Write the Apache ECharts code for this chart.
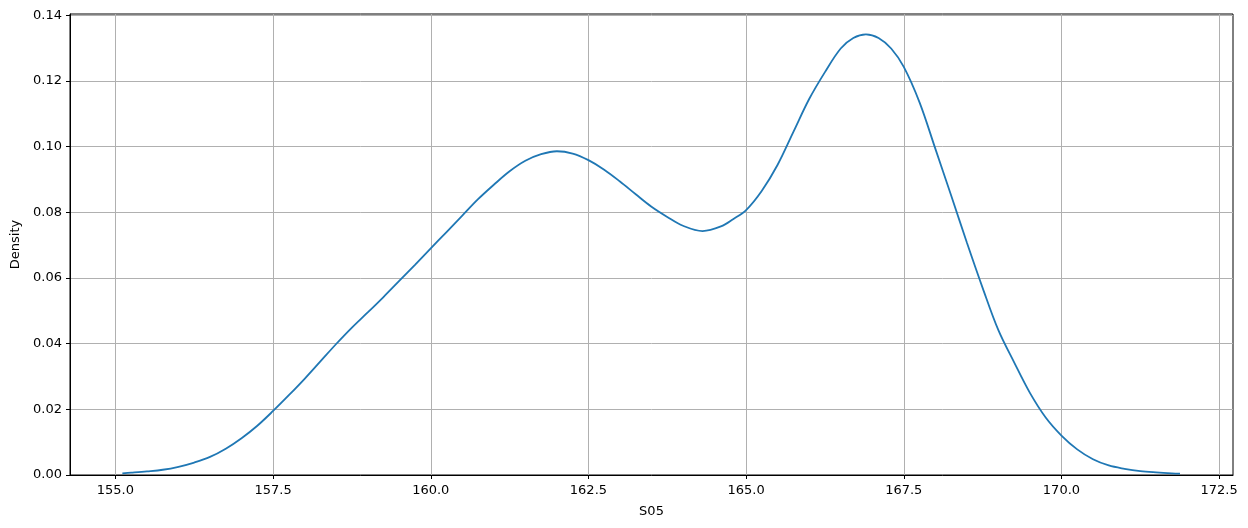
<!DOCTYPE html>
<html>
<head>
<meta charset="utf-8">
<script src="https://cdn.jsdelivr.net/npm/echarts@6/dist/echarts.min.js"></script>
<style>html,body{margin:0;padding:0;background:#fff}#c{width:1248px;height:528px}</style>
</head>
<body>
<div id="c"></div>
<script>
const xValues = [155.11,155.25,155.5,155.75,156.0,156.25,156.5,156.75,157.0,157.25,157.5,157.75,158.0,158.25,158.5,158.75,159.0,159.25,159.5,159.75,160.0,160.25,160.5,160.75,161.0,161.25,161.5,161.75,162.0,162.25,162.5,162.75,163.0,163.25,163.5,163.75,164.0,164.31,164.6,164.8,165.0,165.25,165.5,165.75,166.0,166.25,166.5,166.7,166.9,167.1,167.3,167.5,167.75,168.0,168.25,168.5,168.75,169.0,169.25,169.5,169.75,170.0,170.25,170.5,170.75,171.0,171.25,171.5,171.75,171.88];
const density = [0.0005,0.0007,0.0011,0.0016,0.0025,0.0038,0.0055,0.0080,0.0112,0.0150,0.0195,0.0243,0.0293,0.0346,0.0399,0.0449,0.0495,0.0542,0.0591,0.0640,0.0690,0.0740,0.0790,0.0840,0.0884,0.0925,0.0957,0.0977,0.0986,0.0979,0.0959,0.0930,0.0894,0.0855,0.0817,0.0786,0.0759,0.0743,0.0757,0.0780,0.0807,0.0866,0.0945,0.1045,0.1145,0.1227,0.1299,0.1331,0.1342,0.1331,0.1299,0.1243,0.1135,0.0994,0.0852,0.0708,0.0570,0.0441,0.0343,0.0250,0.0175,0.0120,0.0078,0.0048,0.0029,0.0019,0.0012,0.0008,0.0005,0.0004];
const xTicks = [155.0,157.5,160.0,162.5,165.0,167.5,170.0,172.5];
const yTicks = [0.00,0.02,0.04,0.06,0.08,0.10,0.12,0.14];
const xName = 'S05';
const yName = 'Density';

const chart = echarts.init(document.getElementById('c'), null, {renderer:'canvas'});
const font = '"DejaVu Sans", sans-serif';
chart.setOption({
  animation:false,
  backgroundColor:'#fff',
  grid:{left:70,right:15,top:14,bottom:53,containLabel:false,outerBoundsMode:'none',show:true,borderColor:'#000',borderWidth:1,backgroundColor:'transparent'},
  xAxis:{
    type:'value', min:154.28, max:172.72,
    name:xName, nameLocation:'middle', nameGap:30,
    nameTextStyle:{color:'#000',fontFamily:font,fontSize:13},
    axisLine:{show:true,onZero:false,lineStyle:{color:'#000',width:1}},
    axisTick:{show:true,inside:false,length:4,customValues:xTicks,lineStyle:{color:'#000'}},
    axisLabel:{customValues:xTicks,margin:9,color:'#000',fontFamily:font,fontSize:13,formatter:v=>v.toFixed(1)},
    splitLine:{show:true,lineStyle:{color:'#b0b0b0',width:1}}
  },
  yAxis:{
    type:'value', min:0, max:0.1404,
    name:yName, nameLocation:'middle', nameGap:44, nameRotate:90,
    nameTextStyle:{color:'#000',fontFamily:font,fontSize:13},
    axisLine:{show:true,lineStyle:{color:'#000',width:1}},
    axisTick:{show:true,inside:false,length:4,customValues:yTicks,lineStyle:{color:'#000'}},
    axisLabel:{customValues:yTicks,margin:8,color:'#000',fontFamily:font,fontSize:13,formatter:v=>v.toFixed(2)},
    splitLine:{show:true,lineStyle:{color:'#b0b0b0',width:1}}
  },
  series:[{
    type:'line',
    data:xValues.map((x,i)=>[x,density[i]]),
    showSymbol:false, smooth:0.35,
    lineStyle:{color:'#1f77b4',width:1.8},
    z:3
  }]
});
</script>
</body>
</html>
